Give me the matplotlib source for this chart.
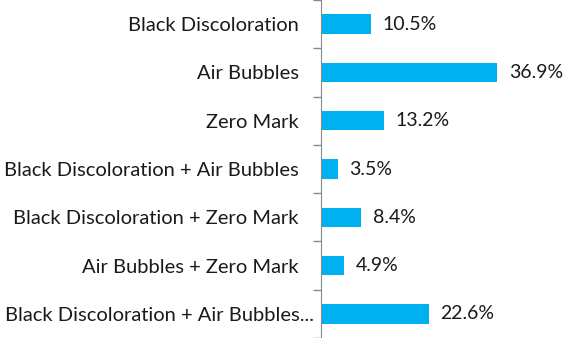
import matplotlib.pyplot as plt
from matplotlib.ticker import FixedLocator
from matplotlib.transforms import ScaledTranslation

categories = ["Black Discoloration", "Air Bubbles", "Zero Mark",
              "Black Discoloration + Air Bubbles",
              "Black Discoloration + Zero Mark",
              "Air Bubbles + Zero Mark",
              "Black Discoloration + Air Bubbles..."]
values = [10.5, 36.9, 13.2, 3.5, 8.4, 4.9, 22.6]

plt.rcParams['font.family'] = ['Lato', 'DejaVu Sans']

fig = plt.figure(figsize=(5.64, 3.38), dpi=100)
ax = fig.add_axes([321/564, 0.0, 1 - 321/564, 1.0])

y = list(range(len(categories)))
ax.barh(y, values, height=0.4, color='#00B0F0')
for yi, v in zip(y, values):
    ax.text(v + 2.5, yi, f"{v}%", va='center', ha='left', fontsize=14, color='#1a1a1a')

ax.set_ylim(len(categories) - 0.5, -0.5)
ax.set_xlim(0, 51)
ax.set_yticks(y)
ax.set_yticklabels(categories, fontsize=14.5, color='#1a1a1a')
ax.yaxis.set_minor_locator(FixedLocator([i + 0.5 for i in range(-1, len(categories))]))
ax.tick_params(axis='y', which='major', length=0, pad=16)
ax.tick_params(axis='y', which='minor', length=6, color='#888888', width=1)
ax.set_xticks([])
for s in ['top', 'right', 'bottom']:
    ax.spines[s].set_visible(False)
ax.spines['left'].set_color('#888888')

# the truncated label sits a little further right in the original
last = ax.get_yticklabels()[-1]
last.set_transform(last.get_transform() + ScaledTranslation(15/100, 0, fig.dpi_scale_trans))

fig.savefig('out.png', dpi=100)
